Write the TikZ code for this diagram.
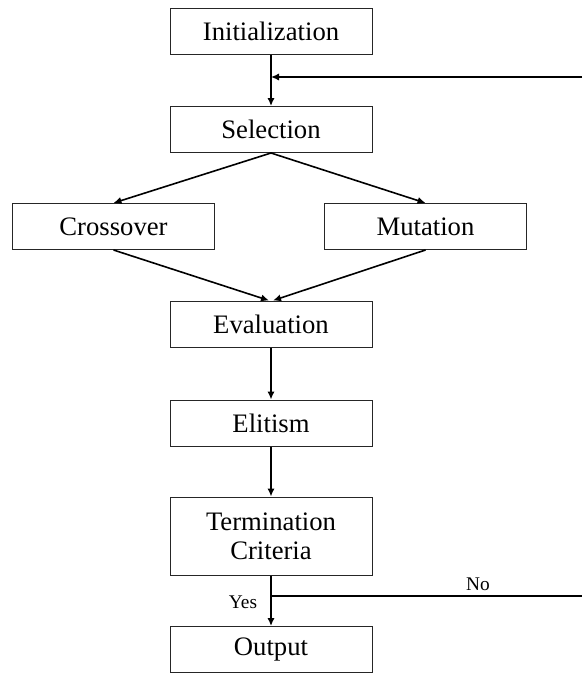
\documentclass[tikz,border=0pt]{standalone}
\usepackage{fontspec}
\setmainfont{Liberation Serif}
\usetikzlibrary{arrows.meta}

\tikzset{
  stagebox/.style={draw=black!85, line width=0.75pt, minimum width=151.5pt, minimum height=34.5pt, inner sep=0.75pt, align=center, font=\fontsize{20}{22}\selectfont},
  flow/.style={line width=1.2pt, -{Latex[length=6pt,width=5.5pt]}},
  branchlabel/.style={inner sep=0.75pt, font=\fontsize{14.5}{16}\selectfont}
}

\begin{document}
\begin{tikzpicture}[x=0.75pt,y=0.75pt,yscale=-1,xscale=1]
    \useasboundingbox (0,0) rectangle (582,678);

    % Stage boxes
    \node [stagebox] (init) at (271,31) {Initialization};
    \node [stagebox] (sel) at (271,129.5) {Selection};
    \node [stagebox] (cross) at (113.5,226.5) {Crossover};
    \node [stagebox] (mut) at (425.5,226.5) {Mutation};
    \node [stagebox] (eval) at (271,324) {Evaluation};
    \node [stagebox] (elit) at (271,423) {Elitism};
    \node [stagebox, minimum height=58.5pt] (term) at (271,536) {Termination\\Criteria};
    \node [stagebox] (out) at (271,649.5) {Output};

    % Loop-back ends at the right edge
    \coordinate (backin) at (582,77);
    \coordinate (split) at (271,596);
    \coordinate (backout) at (582,596);

    % Connectors
    \draw [flow] (init) -- (sel);
    \draw [flow] (sel.south) -- (cross.north);
    \draw [flow] (sel.south) -- (mut.north);
    \draw [flow] (cross.south) -- ([xshift=-1.5pt]eval.north);
    \draw [flow] (mut.south) -- ([xshift=1.5pt]eval.north);
    \draw [flow] (eval) -- (elit);
    \draw [flow] (elit) -- (term);
    \draw [flow] (term) -- (out);
    \draw [flow] (backin) -- (init.south |- backin);
    \draw [line width=1.2pt] (split) -- (backout);

    % Text Node
    \node [branchlabel] (yes) at (243,602) {Yes};
    % Text Node
    \node [branchlabel] (no) at (478,584) {No};

\end{tikzpicture}
\end{document}
